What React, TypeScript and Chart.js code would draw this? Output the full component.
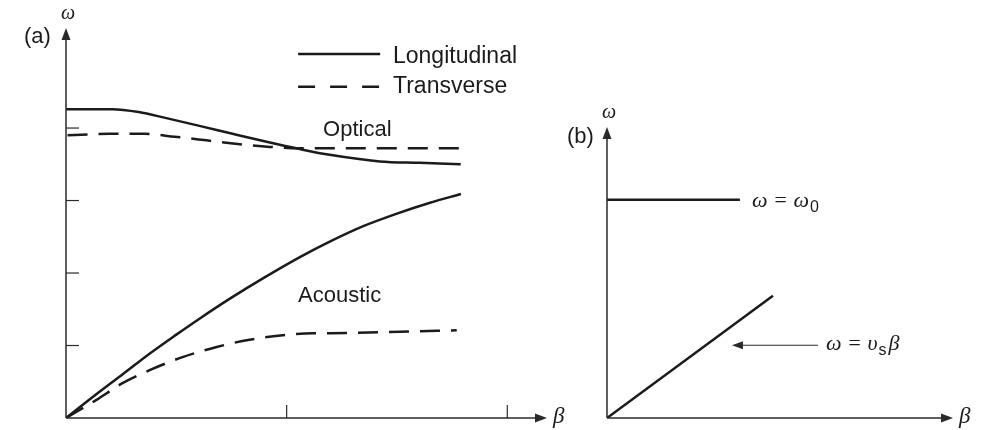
import { useEffect, useRef } from "react";
import { Chart, registerables } from "chart.js";

Chart.register(...registerables);

// ---- Panel (a): dispersion curves of a diatomic lattice ----
const longOpticalBeta = [0, 0.21, 0.33, 0.45, 0.605, 0.755, 0.909, 1.059, 1.195, 1.422, 1.603, 1.789];
const longOpticalOmega = [4.26, 4.26, 4.22, 4.14, 4.03, 3.92, 3.81, 3.71, 3.63, 3.54, 3.52, 3.5];

const transOpticalBeta = [0.007, 0.197, 0.356, 0.492, 0.637, 0.778, 0.923, 1.059, 1.286, 1.513, 1.785];
const transOpticalOmega = [3.9, 3.92, 3.92, 3.88, 3.83, 3.78, 3.74, 3.72, 3.72, 3.72, 3.72];

const longAcousticBeta = [0, 0.13, 0.26, 0.38, 0.5, 0.6, 0.75, 0.9, 1.06, 1.2, 1.35, 1.5, 1.65, 1.79];
const longAcousticOmega = [0, 0.31, 0.61, 0.89, 1.15, 1.36, 1.66, 1.94, 2.22, 2.44, 2.65, 2.82, 2.97, 3.09];

const transAcousticBeta = [0, 0.138, 0.256, 0.379, 0.528, 0.683, 0.832, 0.982, 1.118, 1.195, 1.513, 1.771];
const transAcousticOmega = [0, 0.25, 0.48, 0.66, 0.84, 0.98, 1.08, 1.14, 1.17, 1.17, 1.19, 1.21];

const tickBetaA = [1, 2];
const tickOmegaA = [1, 2, 3, 4];
const legendLabels = ["Longitudinal", "Transverse"];

// ---- Panel (b): simple model ----
const opticalBeta = [0, 0.603];
const opticalOmega = [3, 3];
const acousticBeta = [0, 0.753];
const acousticOmega = [0, 1.68];
const pointerBeta = [0.957, 0.567];
const pointerOmega = [1.0, 1.0];

const INK = "#1b1b1b";
const AXIS = "#2a2a2a";
const SANS = '"Liberation Sans", Arial, sans-serif';
const SERIF = '"Liberation Serif", "Times New Roman", serif';
const DASH = [20, 11];

const pts = (xs: number[], ys: number[]) => xs.map((x, i) => ({ x, y: ys[i] }));

function line(ctx: CanvasRenderingContext2D, x1: number, y1: number, x2: number, y2: number) {
  ctx.beginPath();
  ctx.moveTo(x1, y1);
  ctx.lineTo(x2, y2);
  ctx.stroke();
}

function head(ctx: CanvasRenderingContext2D, tx: number, ty: number, dir: "up" | "right" | "left", len = 12, half = 4.5) {
  ctx.beginPath();
  ctx.moveTo(tx, ty);
  if (dir === "up") {
    ctx.lineTo(tx - half, ty + len);
    ctx.lineTo(tx + half, ty + len);
  } else if (dir === "right") {
    ctx.lineTo(tx - len, ty - half);
    ctx.lineTo(tx - len, ty + half);
  } else {
    ctx.lineTo(tx + len, ty - half);
    ctx.lineTo(tx + len, ty + half);
  }
  ctx.closePath();
  ctx.fill();
}

function drawAxes(chart: any, ticksX: number[], ticksY: number[]) {
  const { ctx, scales } = chart;
  const x = scales.x;
  const y = scales.y;
  const x0 = x.getPixelForValue(0);
  const y0 = y.getPixelForValue(0);
  const xEnd = x.getPixelForValue(x.max);
  const yTop = y.getPixelForValue(y.max);
  ctx.strokeStyle = AXIS;
  ctx.fillStyle = AXIS;
  ctx.lineWidth = 1.5;
  ctx.setLineDash([]);
  line(ctx, x0, y0, x0, yTop + 10);
  line(ctx, x0, y0, xEnd - 10, y0);
  head(ctx, x0, yTop, "up");
  head(ctx, xEnd, y0, "right");
  ctx.lineWidth = 1.2;
  ticksX.forEach((v) => {
    const px = x.getPixelForValue(v);
    line(ctx, px, y0, px, y0 - 13);
  });
  ticksY.forEach((v) => {
    const py = y.getPixelForValue(v);
    line(ctx, x0, py, x0 + 13, py);
  });
  // axis symbols
  ctx.fillStyle = INK;
  ctx.font = `italic 20px ${SERIF}`;
  ctx.textAlign = "center";
  ctx.textBaseline = "alphabetic";
  ctx.fillText("ω", x0 + 2, yTop - 9);
  ctx.textAlign = "left";
  ctx.font = `italic 23px ${SERIF}`;
  ctx.fillText("β", xEnd + 6, y0 + 5);
  return { x0, y0, xEnd, yTop, x, y };
}

const panelAPlugin = {
  id: "panelADecor",
  afterDatasetsDraw(chart: any) {
    const { ctx } = chart;
    ctx.save();
    const { x0, yTop, x, y } = drawAxes(chart, tickBetaA, tickOmegaA);

    ctx.fillStyle = INK;
    ctx.font = `22px ${SANS}`;
    ctx.textAlign = "left";
    ctx.textBaseline = "alphabetic";
    ctx.fillText("(a)", x0 - 42, yTop + 15);

    // legend
    const lx1 = x.getPixelForValue(1.052);
    const lx2 = x.getPixelForValue(1.424);
    const tx = x.getPixelForValue(1.482);
    ctx.strokeStyle = INK;
    ctx.lineWidth = 2.5;
    ctx.setLineDash([]);
    line(ctx, lx1, y.getPixelForValue(5.02), lx2, y.getPixelForValue(5.02));
    ctx.setLineDash([17, 15]);
    line(ctx, lx1, y.getPixelForValue(4.57), lx2 + 1, y.getPixelForValue(4.57));
    ctx.setLineDash([]);
    ctx.font = `23px ${SANS}`;
    ctx.fillText(legendLabels[0], tx, y.getPixelForValue(4.9));
    ctx.fillText(legendLabels[1], tx, y.getPixelForValue(4.48));

    // branch labels
    ctx.font = `22px ${SANS}`;
    ctx.fillText("Optical", x.getPixelForValue(1.165), y.getPixelForValue(3.89));
    ctx.fillText("Acoustic", x.getPixelForValue(1.052), y.getPixelForValue(1.6));
    ctx.restore();
  },
};

const panelBPlugin = {
  id: "panelBDecor",
  afterDatasetsDraw(chart: any) {
    const { ctx } = chart;
    ctx.save();
    const { x0, yTop, x, y } = drawAxes(chart, [], []);

    ctx.fillStyle = INK;
    ctx.font = `22px ${SANS}`;
    ctx.textAlign = "left";
    ctx.textBaseline = "alphabetic";
    ctx.fillText("(b)", x0 - 40, yTop + 16);

    // pointer arrow
    const ay = y.getPixelForValue(pointerOmega[0]);
    const ax1 = x.getPixelForValue(pointerBeta[0]);
    const ax2 = x.getPixelForValue(pointerBeta[1]);
    ctx.strokeStyle = AXIS;
    ctx.fillStyle = AXIS;
    ctx.lineWidth = 1.2;
    line(ctx, ax1, ay, ax2 + 8, ay);
    head(ctx, ax2, ay, "left", 11, 4);

    // equations
    ctx.fillStyle = INK;
    let px = x.getPixelForValue(0.658);
    let py = y.getPixelForValue(2.9);
    ctx.font = `italic 22px ${SERIF}`;
    const e1 = "ω = ω";
    ctx.fillText(e1, px, py);
    px += ctx.measureText(e1).width + 1;
    ctx.font = `16px ${SANS}`;
    ctx.fillText("0", px, py + 5);

    px = x.getPixelForValue(0.994);
    py = y.getPixelForValue(0.935);
    ctx.font = `italic 22px ${SERIF}`;
    const e2 = "ω = υ";
    ctx.fillText(e2, px, py);
    px += ctx.measureText(e2).width + 1;
    ctx.font = `16px ${SANS}`;
    ctx.fillText("s", px, py + 5);
    px += ctx.measureText("s").width + 2;
    ctx.font = `italic 22px ${SERIF}`;
    ctx.fillText("β", px, py);
    ctx.restore();
  },
};

function curve(label: string, xs: number[], ys: number[], dashed: boolean, smooth = true) {
  return {
    label,
    data: pts(xs, ys),
    borderColor: INK,
    borderWidth: 2.5,
    borderDash: dashed ? DASH : [],
    pointRadius: 0,
    fill: false,
    cubicInterpolationMode: smooth ? ("monotone" as const) : ("default" as const),
    tension: 0,
    borderCapStyle: "butt" as const,
  };
}

function baseOptions(xMax: number, yMax: number, padding: any) {
  return {
    responsive: false,
    animation: false as const,
    events: [],
    devicePixelRatio: 1,
    layout: { padding, autoPadding: false },
    plugins: { legend: { display: false }, tooltip: { enabled: false } },
    scales: {
      x: { type: "linear" as const, min: 0, max: xMax, display: false },
      y: { type: "linear" as const, min: 0, max: yMax, display: false },
    },
  };
}

export default function App() {
  const refA = useRef<HTMLCanvasElement>(null);
  const refB = useRef<HTMLCanvasElement>(null);

  useEffect(() => {
    const chartA = new Chart(refA.current!, {
      type: "line",
      data: {
        datasets: [
          curve("Longitudinal optical", longOpticalBeta, longOpticalOmega, false),
          curve("Transverse optical", transOpticalBeta, transOpticalOmega, true),
          curve("Longitudinal acoustic", longAcousticBeta, longAcousticOmega, false),
          curve("Transverse acoustic", transAcousticBeta, transAcousticOmega, true),
        ],
      },
      options: baseOptions(2.18, 5.38, { left: 66, right: 53, top: 28, bottom: 12 }) as any,
      plugins: [panelAPlugin],
    });
    const chartB = new Chart(refB.current!, {
      type: "line",
      data: {
        datasets: [
          curve("ω = ω0", opticalBeta, opticalOmega, false, false),
          curve("ω = υs β", acousticBeta, acousticOmega, false, false),
        ],
      },
      options: baseOptions(1.57, 4.0, { left: 47, right: 41, top: 127, bottom: 12 }) as any,
      plugins: [panelBPlugin],
    });
    return () => {
      chartA.destroy();
      chartB.destroy();
    };
  }, []);

  return (
    <div style={{ position: "absolute", left: 0, top: 0, width: 994, height: 430, background: "#fff" }}>
      <canvas ref={refA} width={600} height={430} style={{ position: "absolute", left: 0, top: 0, width: 600, height: 430 }} />
      <canvas ref={refB} width={434} height={430} style={{ position: "absolute", left: 560, top: 0, width: 434, height: 430 }} />
    </div>
  );
}
